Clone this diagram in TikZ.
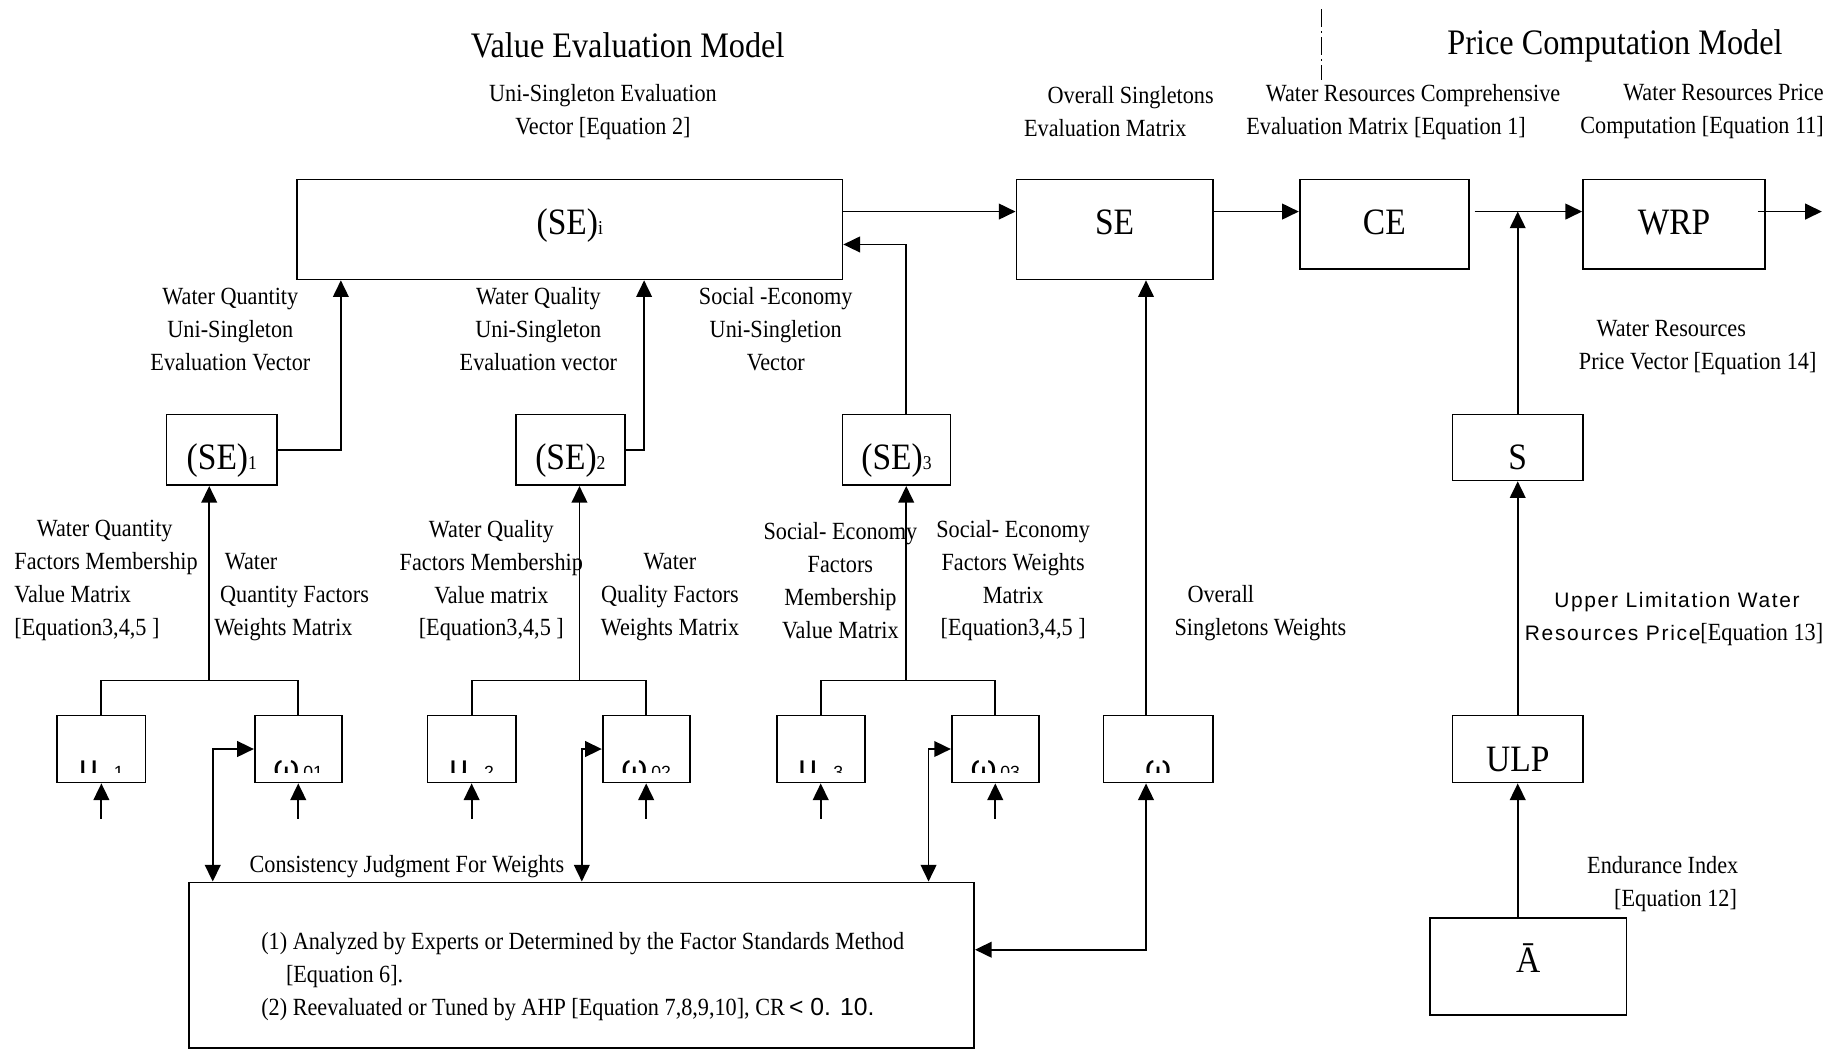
\documentclass[tikz,border=0pt]{standalone}
\usepackage{fontspec}
\setmainfont{Liberation Serif}[FakeStretch=0.9]
\newfontfamily\rksans{Liberation Sans}
\newfontfamily\rksansspaced{Liberation Sans}[LetterSpace=8]
\usetikzlibrary{arrows.meta,calc}
\newcommand{\rkbody}{\fontsize{12.6}{16.8}\selectfont}
\newcommand{\rktitle}{\fontsize{18.3}{22}\selectfont}
\newcommand{\rkbox}{\fontsize{19}{22}\selectfont}
\newcommand{\rksub}{\fontsize{10}{12}\selectfont}
\newcommand{\rkgreek}{\rksans\fontsize{17}{18}\selectfont}
\newcommand{\rkgsub}{\rksans\fontsize{9}{10}\selectfont}
\newcommand{\rkspaced}{\rksansspaced\fontsize{10.7}{16.8}\selectfont}
\tikzset{
  box/.style={draw, line width=0.9pt, inner sep=0pt, font=\rkbox},
  rbox/.style n args={3}{box, anchor=north west, minimum width=#1*0.6pt, minimum height=#2*0.6pt, text height=#3, text depth=0pt},
  lbl/.style={font=\rkbody, align=center, inner sep=0pt},
  conn/.style={line width=0.9pt},
  arr/.style={conn, -{Triangle[length=8.5pt,width=8pt]}},
  darr/.style={conn, {Triangle[length=8.5pt,width=8pt]}-{Triangle[length=8.5pt,width=8pt]}},
  divider/.style={line width=0.6pt, dash pattern=on 9pt off 2pt on 1.2pt off 2pt},
}
\begin{document}
\begin{tikzpicture}[x=0.6pt,y=-0.6pt]
\useasboundingbox[fill=white] (0,0) rectangle (1568,893);

% titles
\node[lbl,font=\rktitle] (tVal) at (534,39) {Value Evaluation Model};
\node[lbl,font=\rktitle] (tPrice) at (1374,39) {Price Computation Model};
\coordinate (dd1) at (1124,8);
\coordinate (dd2) at (1124,68);
\draw[divider] (dd1) -- (dd2);

% main boxes
\node[rbox={464}{85}{4.8pt}] (SEi) at (252,152) {(SE)\rksub i};
\node[rbox={167}{85}{4.8pt}] (SE) at (864,152) {SE};
\node[rbox={144}{76}{10.2pt}] (CE) at (1105,152) {CE};
\node[rbox={155}{76}{10.2pt}] (WRP) at (1346,152) {WRP};
\node[rbox={94}{60}{19.8pt}] (SE1) at (141,352) {(SE)\rksub 1};
\node[rbox={93}{60}{19.8pt}] (SE2) at (438,352) {(SE)\rksub 2};
\node[rbox={92}{60}{19.8pt}] (SE3) at (716,352) {(SE)\rksub 3};
\node[rbox={111}{56}{22.2pt}] (S) at (1235,352) {S};
\node[rbox={111}{57}{22.8pt}] (ULP) at (1235,608) {ULP};
\node[rbox={167}{83}{6pt}] (A) at (1216,780) {Ā};
\node[rbox={668}{141}{0pt}] (big) at (160,750) {};

% small boxes
\foreach \nm/\xa/\w in {mu1/48/75, w1/216/74, mu2/363/75, w2/512/74, mu3/660/75, w3/809/74, wo/938/93} {
  \node[rbox={\w}{57}{0pt}] (\nm) at (\xa,608) {};
}
\begin{scope}
  \clip (0,640) rectangle (1568,657);
  \foreach \nm/\g/\s/\gap in {mu1/μ/1/8pt, w1/ω/01/2pt, mu2/μ/2/8pt, w2/ω/02/2pt, mu3/μ/3/8pt, w3/ω/03/2pt, wo/ω//0pt} {
    \node[anchor=base, inner sep=0pt, font=\rkgreek] (\nm-t) at ($(\nm.south)+(0,-4)$) {\g\hspace{\gap}{\rkgsub\s}};
  }
\end{scope}

% labels
\node[lbl] (lUSE) at (513,95) {Uni-Singleton Evaluation\\Vector [Equation 2]};
\node[lbl,align=left,anchor=west] (lOSE) at (871,95) {\hspace*{12pt}Overall Singletons\\Evaluation Matrix};
\node[lbl,align=left,anchor=west] (lWRC) at (1060,95) {\hspace*{10pt}Water Resources Comprehensive\\Evaluation Matrix [Equation 1]};
\node[lbl,align=right,anchor=east] (lWRPc) at (1552,95) {Water Resources Price\\Computation [Equation 11]};
\node[lbl] (lQn) at (196,280) {Water Quantity\\Uni-Singleton\\Evaluation Vector};
\node[lbl] (lQl) at (458,280) {Water Quality\\Uni-Singleton\\Evaluation vector};
\node[lbl] (lSo) at (660,280) {Social -Economy\\Uni-Singletion\\Vector};
\node[lbl,align=left,anchor=west] (lPV) at (1343,296) {\hspace*{9pt}Water Resources\\Price Vector [Equation 14]};
\node[lbl,align=left,anchor=west] (lQnM) at (12,494) {\hspace*{11.4pt}Water Quantity\\Factors Membership\\Value Matrix\\{}[Equation3,4,5 ]};
\node[lbl,align=left,anchor=west] (lQnW) at (182,508) {\hspace*{5.4pt}Water\\\hspace*{3pt}Quantity Factors\\Weights Matrix};
\node[lbl] (lQlM) at (418,494) {Water Quality\\Factors Membership\\Value matrix\\{}[Equation3,4,5 ]};
\node[lbl] (lQlW) at (570,508) {Water\\Quality Factors\\Weights Matrix};
\node[lbl] (lSoM) at (715,494) {Social- Economy\\Factors\\Membership\\Value Matrix};
\node[lbl] (lSoW) at (862,494) {Social- Economy\\Factors Weights\\Matrix\\{}[Equation3,4,5 ]};
\node[lbl,align=left,anchor=west] (lOW) at (999,522) {\hspace*{6.6pt}Overall\\Singletons Weights};
\node[lbl,align=left,anchor=west] (lUL) at (1297,527) {\hspace*{15pt}{\rkspaced Upper Limitation Water}\\{\rkspaced Resources Price}[Equation 13]};
\node[lbl,align=left,anchor=west] (lEI) at (1350,752) {Endurance Index\\\hspace*{13.8pt}[Equation 12]};
\node[lbl,anchor=west] (lCJ) at (212,737) {Consistency Judgment For Weights};
\node[lbl,align=left,anchor=west] (bigtxt) at (222,831) {(1) Analyzed by Experts or Determined by the Factor Standards Method\\\hspace*{12.6pt}[Equation 6].\\(2) Reevaluated or Tuned by AHP [Equation 7,8,9,10], CR{\rksans\,< 0. 10.}};

% top row connectors
\coordinate (rowA) at (0,180);
\draw[arr] (SEi.east |- rowA) -- (SE.west |- rowA);
\draw[arr] (SE.east |- rowA) -- (CE.west |- rowA);
\coordinate (ceout) at ($(CE.east |- rowA)+(4,0)$);
\draw[arr] (ceout) -- (WRP.west |- rowA);
\coordinate (wrpout) at ($(WRP.east |- rowA)+(-7,0)$);
\coordinate (outEnd) at (1550,180);
\draw[arr] (wrpout) -- (outEnd);

% right column
\coordinate (jct) at (S.north |- rowA);
\draw[arr] (S.north) -- (jct);
\draw[arr] (ULP.north) -- (S.south);
\draw[arr] (A.north -| ULP.south) -- (ULP.south);

% SE_k to (SE)i
\coordinate (c1) at (290,0);
\coordinate (c2) at (548,0);
\draw[arr] (SE1.east) -| (SEi.south -| c1);
\draw[arr] (SE2.east) -| (SEi.south -| c2);
\coordinate (c3) at (771,208);
\draw[arr] (SE3.north -| c3) |- (SEi.east |- c3);

% trees
\coordinate (t1) at (178,579);
\coordinate (t2) at (493,579);
\coordinate (t3) at (771,579);
\draw[arr] (t1) -- (t1 |- SE1.south);
\draw[arr] (t2) -- (t2 |- SE2.south);
\draw[arr] (t3) -- (t3 |- SE3.south);
\draw[conn] (mu1.north) |- (t1) -| (w1.north);
\draw[conn] (mu2.north) |- (t2) -| (w2.north);
\draw[conn] (mu3.north) |- (t3) -| (w3.north);

% inputs from below
\foreach \nm in {mu1,w1,mu2,w2,mu3,w3} {
  \coordinate (\nm-in) at ($(\nm.south)+(0,30)$);
  \draw[arr] (\nm-in) -- (\nm.south);
}

% weights <-> consistency box
\coordinate (j1) at (181,750);
\coordinate (j2) at (495,750);
\coordinate (j3) at (790,750);
\draw[darr] (w1.west) -| (j1);
\draw[darr] (w2.west) -| (j2);
\draw[darr] (w3.west) -| (j3);
\coordinate (j4) at (975,808);
\draw[darr] (wo.south -| j4) |- (big.east |- j4);
\draw[arr] (wo.north -| j4) -- (SE.south -| j4);
\end{tikzpicture}
\end{document}
